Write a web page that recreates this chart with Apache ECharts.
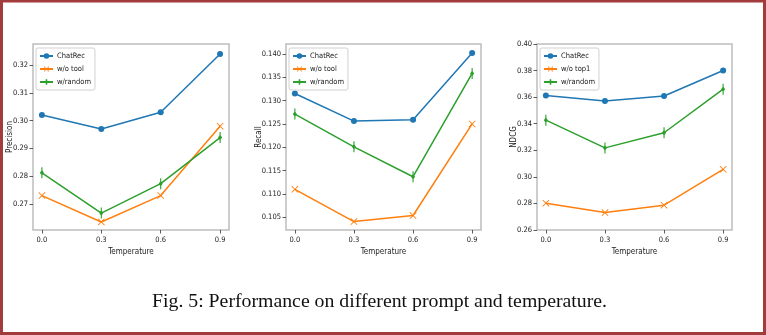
<!DOCTYPE html>
<html>
<head>
<meta charset="utf-8">
<script src="https://cdn.jsdelivr.net/npm/echarts@6/dist/echarts.min.js"></script>
<style>
  html, body { margin: 0; padding: 0; background: #fff; }
  #chart { width: 766px; height: 335px; }
</style>
</head>
<body>
<div id="chart"></div>
<script>
// Temperature settings on the x axis
const temps = [0.0, 0.3, 0.6, 0.9];
const tempTicks = [0.0, 0.3, 0.6, 0.9];

// Precision panel
const precisionChatRec = [0.302, 0.297, 0.303, 0.324];
const precisionNoTool  = [0.273, 0.2635, 0.273, 0.298];
const precisionRandom  = [0.2812, 0.2667, 0.2773, 0.2939];
const precisionTicks   = [0.27, 0.28, 0.29, 0.30, 0.31, 0.32];

// Recall panel
const recallChatRec = [0.1315, 0.1256, 0.1259, 0.1402];
const recallNoTool  = [0.1110, 0.1041, 0.1054, 0.1250];
const recallRandom  = [0.1271, 0.1201, 0.1137, 0.1358];
const recallTicks   = [0.105, 0.110, 0.115, 0.120, 0.125, 0.130, 0.135, 0.140];

// NDCG panel
const ndcgChatRec = [0.3612, 0.3571, 0.3609, 0.3801];
const ndcgNoTop1  = [0.2802, 0.2731, 0.2787, 0.3057];
const ndcgRandom  = [0.3427, 0.3218, 0.3332, 0.3660];
const ndcgTicks   = [0.26, 0.28, 0.30, 0.32, 0.34, 0.36, 0.38, 0.40];

const seriesNames = [
  ['ChatRec', 'w/o tool', 'w/random'],
  ['ChatRec', 'w/o tool', 'w/random'],
  ['ChatRec', 'w/o top1', 'w/random']
];
const axisNames = ['Precision', 'Recall', 'NDCG'];
const caption = 'Fig. 5: Performance on different prompt and temperature.';

const BLUE = '#1f77b4', ORANGE = '#ff7f0e', GREEN = '#2ca02c';
const FONT = '"DejaVu Sans Condensed", "Liberation Sans Narrow", "Roboto Condensed", "Liberation Sans", sans-serif';
const X_MARK = 'path://M-4,-3.3 L-3.3,-4 L0,-0.7 L3.3,-4 L4,-3.3 L0.7,0 L4,3.3 L3.3,4 L0,0.7 L-3.3,4 L-4,3.3 L-0.7,0 Z';
const ERR_MARK = 'path://M-0.5,-6 L0.5,-6 L0.5,-2.4 L1.8,0 L0.5,2.4 L0.5,6 L-0.5,6 L-0.5,2.4 L-1.8,0 L-0.5,-2.4 Z';

const panels = [
  { left: 33,  width: 196, yMin: 0.2606, yMax: 0.3276, ticks: precisionTicks, digits: 2, gap: 19,
    data: [precisionChatRec, precisionNoTool, precisionRandom] },
  { left: 286, width: 195, yMin: 0.1023, yMax: 0.1421, ticks: recallTicks, digits: 3, gap: 23,
    data: [recallChatRec, recallNoTool, recallRandom] },
  { left: 537, width: 195, yMin: 0.26, yMax: 0.40, ticks: ndcgTicks, digits: 2, gap: 19,
    data: [ndcgChatRec, ndcgNoTop1, ndcgRandom] }
];

const grid = [], xAxis = [], yAxis = [], series = [], legend = [];
const tickStyle = { show: true, length: 3.5, lineStyle: { color: '#333', width: 0.8 } };
const labelFont = { fontFamily: FONT, fontSize: 7.5, color: '#222' };
const nameFont = { fontFamily: FONT, fontSize: 8, color: '#222' };

panels.forEach((p, k) => {
  grid.push({ left: p.left, top: 44, width: p.width, height: 186, show: true,
    borderColor: '#bdbdbd', borderWidth: 1.5, backgroundColor: 'transparent',
    outerBoundsMode: 'none', containLabel: false });
  xAxis.push({
    type: 'value', gridIndex: k, min: -0.045, max: 0.945,
    name: 'Temperature', nameLocation: 'middle', nameGap: 18, nameMoveOverlap: false,
    nameTextStyle: nameFont,
    axisLine: { show: false, onZero: false },
    axisTick: Object.assign({ customValues: tempTicks }, tickStyle),
    axisLabel: Object.assign({ customValues: tempTicks, margin: 6,
      formatter: v => v.toFixed(1) }, labelFont),
    splitLine: { show: false }
  });
  yAxis.push({
    type: 'value', gridIndex: k, min: p.yMin, max: p.yMax,
    name: axisNames[k], nameLocation: 'middle', nameRotate: 90, nameGap: p.gap,
    nameMoveOverlap: false,
    nameTextStyle: nameFont,
    axisLine: { show: false, onZero: false },
    axisTick: Object.assign({ customValues: p.ticks }, tickStyle),
    axisLabel: Object.assign({ customValues: p.ticks, margin: 5,
      formatter: v => v.toFixed(p.digits) }, labelFont),
    splitLine: { show: false }
  });
  const styles = [
    { color: BLUE, symbol: 'circle', size: 6 },
    { color: ORANGE, symbol: X_MARK, size: 7 },
    { color: GREEN, symbol: ERR_MARK, size: [4, 11] }
  ];
  p.data.forEach((vals, j) => {
    const st = styles[j];
    series.push({
      type: 'line', name: seriesNames[k][j], xAxisIndex: k, yAxisIndex: k,
      data: temps.map((t, i) => [t, vals[i]]),
      symbol: st.symbol, symbolSize: st.size, showAllSymbol: true,
      lineStyle: { color: st.color, width: 1.5 },
      itemStyle: { color: st.color },
      emphasis: { disabled: true },
      animation: false
    });
  });
  legend.push({
    orient: 'vertical', left: p.left + 3, top: 48,
    data: seriesNames[k],
    itemWidth: 13, itemHeight: 7, itemGap: 5, itemStyle: {},
    padding: [4, 4, 4, 3],
    backgroundColor: '#fff', borderColor: '#d0d0d0', borderWidth: 1, borderRadius: 2,
    textStyle: { fontFamily: FONT, fontSize: 7.5, color: '#222', padding: [0, 0, 0, -1] },
    selectedMode: false
  });
});

const chart = echarts.init(document.getElementById('chart'), null, { renderer: 'canvas' });
chart.setOption({
  backgroundColor: '#fff',
  animation: false,
  title: {
    text: caption, left: 152, top: 292, padding: 0,
    textStyle: { fontFamily: 'Liberation Serif', fontSize: 19.8, fontWeight: 'normal', color: '#111' }
  },
  grid, xAxis, yAxis, series, legend,
  graphic: [{
    type: 'rect', silent: true, z: 100,
    shape: { x: 1.5, y: 1, width: 763, height: 332.5 },
    style: { fill: 'none', stroke: '#a23b3b', lineWidth: 3 }
  }]
});
</script>
</body>
</html>
